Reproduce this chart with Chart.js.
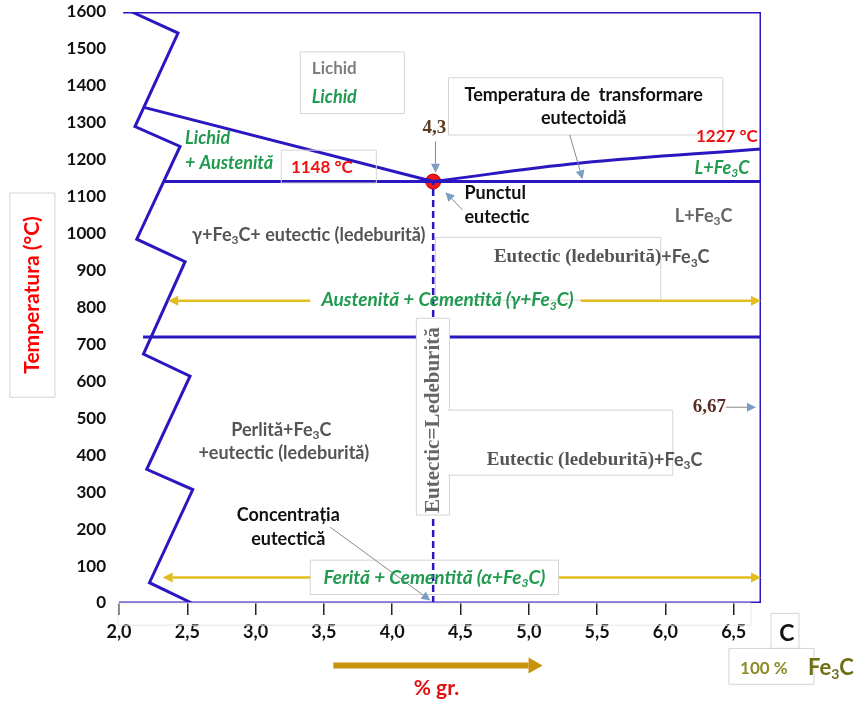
<!DOCTYPE html>
<html>
<head>
<meta charset="utf-8">
<script src="https://cdn.jsdelivr.net/npm/chart.js@4/dist/chart.umd.min.js"></script>
<style>
  html, body { margin: 0; padding: 0; background: #fff; }
  #wrap { width: 855px; height: 704px; }
</style>
</head>
<body>
<div id="wrap"><canvas id="diagram" width="855" height="704"></canvas></div>
<script>
// carbon content (% gr.) on x, temperature (°C) on y
const xTicks = [2.0, 2.5, 3.0, 3.5, 4.0, 4.5, 5.0, 5.5, 6.0, 6.5];
const xTickLabels = ['2,0', '2,5', '3,0', '3,5', '4,0', '4,5', '5,0', '5,5', '6,0', '6,5'];
const yTicks = [0, 100, 200, 300, 400, 500, 600, 700, 800, 900, 1000, 1100, 1200, 1300, 1400, 1500, 1600];

// left break line (zig-zag)
const breakC = [2.095, 2.432, 2.117, 2.447, 2.130, 2.484, 2.179, 2.520, 2.203, 2.540, 2.223, 2.533];
const breakT = [1600, 1543, 1290, 1236, 985, 924, 674, 614, 362, 307, 55, 0];

// phase boundaries
const liquidusLeftC = [2.19, 4.3];
const liquidusLeftT = [1341, 1141];
const liquidusRightC = [4.3, 5.38, 6.7];
const liquidusRightT = [1141, 1191, 1229];
const eutecticC = [2.323, 6.7];
const eutecticT = [1141, 1141];
const eutectoidC = [2.176, 6.7];
const eutectoidT = [720, 720];
const topC = [2.03, 6.7];
const topT = [1600, 1600];
const bottomC = [2.0, 6.7];
const bottomT = [0, 0];
const rightC = [6.7, 6.7];
const rightT = [0, 1600];
const eutecticLineC = [4.3, 4.3];
const eutecticLineT = [0, 1141];
const eutecticPointC = [4.3];
const eutecticPointT = [1141];

const BLUE = '#2b17c0';
const GREEN = '#1f9a4f';
const SANS = 'Lato, "Open Sans", sans-serif';
const SERIF = '"Liberation Serif", "DejaVu Serif", serif';

function pts(cs, ts) {
  return cs.map(function (c, i) { return { x: c, y: ts[i] }; });
}

function line(cs, ts, extra) {
  return Object.assign({
    data: pts(cs, ts),
    showLine: true,
    borderColor: BLUE,
    borderWidth: 3,
    pointRadius: 0,
    tension: 0,
    fill: false
  }, extra || {});
}

//-------------
//- ANNOTATIONS -
//-------------
function f(style, size, family) { return { style: style, size: size, family: family || SANS }; }

const boxes = [
  { c: [3.327, 4.089], t: [1325, 1492] },
  { c: [4.412, 6.421], t: [1267, 1422] },
  { c: [3.188, 3.884], t: [1137, 1226] },
  { c: [4.317, 5.966], t: [820, 990] },
  { c: [4.177, 4.419], t: [238, 771], fill: '#fff' },
  { c: [4.410, 6.054], t: [346, 522], fill: '#fff', openLeft: true },
  { c: [3.400, 5.218], t: [23, 116] },
  { c: [1.201, 1.531], t: [557, 1110] },
  { c: [6.773, 6.978], t: [-123, -28] },
  { c: [6.465, 7.088], t: [-220, -123] },
  { c: [1.993, 6.626], t: [-60, 0], color: '#e6e6e6' }
];

const arrows = [
  // yellow phase-range arrows
  { from: [3.40, 818], to: [2.36, 818], color: '#e3bd1f', width: 2.5, head: 10, hw: 5 },
  { from: [5.38, 818], to: [6.70, 818], color: '#e3bd1f', width: 2.5, head: 10, hw: 5 },
  { from: [3.40, 69], to: [2.32, 69], color: '#e3bd1f', width: 2.5, head: 10, hw: 5 },
  { from: [5.22, 69], to: [6.70, 69], color: '#e3bd1f', width: 2.5, head: 10, hw: 5 },
  // thin pointers
  { from: [5.30, 1267], to: [5.394, 1147], color: '#8a8a8a', headColor: '#7c9cc4', width: 1, head: 9, hw: 4.5 },
  { from: [4.317, 1250], to: [4.317, 1165], color: '#8a8a8a', headColor: '#7c9cc4', width: 1, head: 9, hw: 4.5 },
  { from: [4.515, 1064], to: [4.39, 1112], color: '#8a8a8a', headColor: '#7c9cc4', width: 1, head: 9, hw: 4.5 },
  { from: [6.443, 530], to: [6.663, 530], color: '#8a8a8a', headColor: '#7c9cc4', width: 1, head: 9, hw: 4.5 },
  { from: [3.547, 205], to: [4.28, 7], color: '#8a8a8a', headColor: '#7c9cc4', width: 1, head: 9, hw: 4.5 },
  // % gr. arrow under the axis
  { from: [3.569, -169], to: [5.101, -169], color: '#c8920c', width: 6, head: 14, hw: 8 }
];

const labels = [
  { c: 3.576, t: 1446, text: 'Lichid', font: f('bold', 17), color: '#7f7f7f' },
  { c: 3.576, t: 1370, text: 'Lichid', font: f('italic bold', 18), color: GREEN },
  { c: 5.402, t: 1375, text: 'Temperatura de  transformare', font: f('bold', 18), color: '#111' },
  { c: 5.402, t: 1313, text: 'eutectoidă', font: f('bold', 18), color: '#111' },
  { c: 4.309, t: 1286, text: '4,3', font: f('bold', 19, SERIF), color: '#5c3b1e' },
  { c: 6.677, t: 1262, text: '1227 °C', font: f('bold', 17), color: '#ee1111', align: 'right' },
  { c: 6.414, t: 1178, text: 'L+Fe{3}C', font: f('italic bold', 18), color: GREEN },
  { c: 4.529, t: 1110, text: 'Punctul', font: f('bold', 18), color: '#111', align: 'left' },
  { c: 4.529, t: 1045, text: 'eutectic', font: f('bold', 18), color: '#111', align: 'left' },
  { c: 6.28, t: 1048, text: 'L+Fe{3}C', font: f('bold', 18), color: '#666' },
  { c: 2.484, t: 1259, text: 'Lichid', font: f('italic bold', 18), color: GREEN, align: 'left' },
  { c: 2.484, t: 1191, text: '+ Austenită', font: f('italic bold', 18), color: GREEN, align: 'left' },
  { c: 3.485, t: 1178, text: '1148 °C', font: f('bold', 17), color: '#ee1111' },
  { c: 3.389, t: 996, text: 'γ+Fe{3}C+ eutectic (ledeburită)', font: f('bold', 18), color: '#555' },
  { c: 5.534, t: 936, parts: [{ text: 'Eutectic (ledeburită)', font: f('bold', 19, SERIF) }, { text: '+Fe{3}C', font: f('bold', 18) }], color: '#555' },
  { c: 4.405, t: 820, text: 'Austenită + Cementită (γ+Fe{3}C)', font: f('italic bold', 19), color: GREEN },
  { c: 4.302, t: 495, text: 'Eutectic=Ledeburită', font: f('bold', 21, SERIF), color: '#666', rot: -90 },
  { c: 5.482, t: 387, parts: [{ text: 'Eutectic (ledeburită)', font: f('bold', 19, SERIF) }, { text: '+Fe{3}C', font: f('bold', 18) }], color: '#555' },
  { c: 6.443, t: 530, text: '6,67', font: f('bold', 19, SERIF), color: '#5a2e22', align: 'right' },
  { c: 3.188, t: 468, text: 'Perlită+Fe{3}C', font: f('bold', 18), color: '#555' },
  { c: 3.206, t: 406, text: '+eutectic (ledeburită)', font: f('bold', 18), color: '#555' },
  { c: 3.239, t: 238, text: 'Concentrația', font: f('bold', 18), color: '#111' },
  { c: 3.239, t: 173, text: 'eutectică', font: f('bold', 18), color: '#111' },
  { c: 4.309, t: 69, text: 'Ferită + Cementită (α+Fe{3}C)', font: f('italic bold', 19), color: GREEN },
  // axis titles and corner
  { c: 1.362, t: 834, text: 'Temperatura (°C)', font: f('bold', 21), color: '#ff0000', rot: -90 },
  { c: 4.324, t: -232, text: '% gr.', font: f('bold', 21), color: '#e01010' },
  { c: 6.890, t: -82, text: 'C', font: f('bold', 23), color: '#111' },
  { c: 6.721, t: -177, text: '100 %', font: f('bold', 17), color: '#8c8c28' },
  { c: 7.044, t: -177, text: 'Fe{3}C', font: f('bold', 22), color: '#6e6e14', align: 'left' }
];

function fontStr(ft, sub) {
  return ft.style + ' ' + (sub ? Math.round(ft.size * 0.65) : ft.size) + 'px ' + ft.family;
}

function pieces(lb) {
  const segs = lb.parts || [{ text: lb.text, font: lb.font }];
  const out = [];
  segs.forEach(function (seg) {
    seg.text.split(/(\{[^}]*\})/).forEach(function (p) {
      if (!p) return;
      const sub = p[0] === '{';
      out.push({ s: sub ? p.slice(1, -1) : p, font: seg.font, sub: sub });
    });
  });
  return out;
}

function drawLabel(ctx, lb, x, y) {
  const ps = pieces(lb);
  let w = 0;
  ps.forEach(function (p) {
    ctx.font = fontStr(p.font, p.sub);
    p.w = ctx.measureText(p.s).width;
    w += p.w;
  });
  ctx.save();
  ctx.translate(x, y);
  if (lb.rot) ctx.rotate(lb.rot * Math.PI / 180);
  let cx = lb.align === 'left' ? 0 : lb.align === 'right' ? -w : -w / 2;
  ctx.fillStyle = lb.color;
  ctx.textAlign = 'left';
  ctx.textBaseline = 'middle';
  ps.forEach(function (p) {
    ctx.font = fontStr(p.font, p.sub);
    ctx.fillText(p.s, cx, p.sub ? p.font.size * 0.3 : 0);
    cx += p.w;
  });
  ctx.restore();
}

function drawArrow(ctx, a, x1, y1, x2, y2) {
  const ang = Math.atan2(y2 - y1, x2 - x1);
  const bx = x2 - Math.cos(ang) * a.head;
  const by = y2 - Math.sin(ang) * a.head;
  ctx.strokeStyle = a.color;
  ctx.lineWidth = a.width;
  ctx.beginPath();
  ctx.moveTo(x1, y1);
  ctx.lineTo(bx, by);
  ctx.stroke();
  ctx.fillStyle = a.headColor || a.color;
  ctx.beginPath();
  ctx.moveTo(x2, y2);
  ctx.lineTo(bx - Math.sin(ang) * a.hw, by + Math.cos(ang) * a.hw);
  ctx.lineTo(bx + Math.sin(ang) * a.hw, by - Math.cos(ang) * a.hw);
  ctx.closePath();
  ctx.fill();
}

const annotations = {
  id: 'annotations',
  afterDatasetsDraw: function (chart) {
    const ctx = chart.ctx;
    const sx = chart.scales.x, sy = chart.scales.y;
    function px(c) { return sx.getPixelForValue(c); }
    function py(t) { return sy.getPixelForValue(t); }
    ctx.save();

    boxes.forEach(function (b) {
      const x1 = px(b.c[0]), x2 = px(b.c[1]), y1 = py(b.t[1]), y2 = py(b.t[0]);
      if (b.fill) {
        ctx.fillStyle = b.fill;
        ctx.fillRect(x1, y1, x2 - x1, y2 - y1);
      }
      ctx.strokeStyle = b.color || '#d4d4d4';
      ctx.lineWidth = 1;
      ctx.beginPath();
      if (b.openLeft) {
        ctx.moveTo(x1, y1); ctx.lineTo(x2, y1); ctx.lineTo(x2, y2); ctx.lineTo(x1, y2);
      } else {
        ctx.rect(x1, y1, x2 - x1, y2 - y1);
      }
      ctx.stroke();
    });

    arrows.forEach(function (a) {
      drawArrow(ctx, a, px(a.from[0]), py(a.from[1]), px(a.to[0]), py(a.to[1]));
    });

    labels.forEach(function (lb) {
      drawLabel(ctx, lb, px(lb.c), py(lb.t));
    });
    ctx.restore();
  }
};

//-------------
//- CHART -
//-------------
const chart = new Chart(document.getElementById('diagram').getContext('2d'), {
  type: 'scatter',
  data: {
    datasets: [
      line(topC, topT),
      line(rightC, rightT),
      line(bottomC, bottomT),
      line(breakC, breakT),
      line(liquidusLeftC, liquidusLeftT),
      line(liquidusRightC, liquidusRightT, { tension: 0.4 }),
      line(eutecticC, eutecticT),
      line(eutectoidC, eutectoidT),
      line(eutecticLineC, eutecticLineT, { borderWidth: 2.5, borderDash: [7, 4] }),
      {
        data: pts(eutecticPointC, eutecticPointT),
        showLine: false,
        pointRadius: 7.5,
        backgroundColor: '#f01818',
        borderColor: '#c40000',
        borderWidth: 1
      }
    ]
  },
  options: {
    responsive: false,
    animation: false,
    layout: { padding: { top: 12, right: 94, bottom: 0, left: 0 } },
    plugins: { legend: { display: false }, tooltip: { enabled: false } },
    scales: {
      x: {
        type: 'linear',
        min: 2.0,
        max: 6.7,
        afterBuildTicks: function (s) { s.ticks = xTicks.map(function (v) { return { value: v }; }); },
        afterFit: function (s) { s.height = 101; },
        border: { display: false },
        grid: { drawOnChartArea: false, drawTicks: true, tickLength: 12, color: '#222', lineWidth: 1.5 },
        ticks: {
          padding: 6,
          color: '#111',
          font: { family: SANS, size: 18, weight: 'bold' },
          maxRotation: 0,
          callback: function (v) { return xTickLabels[xTicks.indexOf(v)]; }
        }
      },
      y: {
        type: 'linear',
        min: 0,
        max: 1600,
        afterBuildTicks: function (s) { s.ticks = yTicks.map(function (v) { return { value: v }; }); },
        afterFit: function (s) {
          s.width = 119;
          s.paddingTop = 0;
          s.paddingBottom = 0;
        },
        border: { display: false },
        grid: { display: false, drawTicks: false },
        ticks: {
          padding: 13,
          color: '#111',
          font: { family: SANS, size: 17, weight: 'bold' },
          callback: function (v) { return String(v); }
        }
      }
    }
  },
  plugins: [annotations]
});
</script>
</body>
</html>
